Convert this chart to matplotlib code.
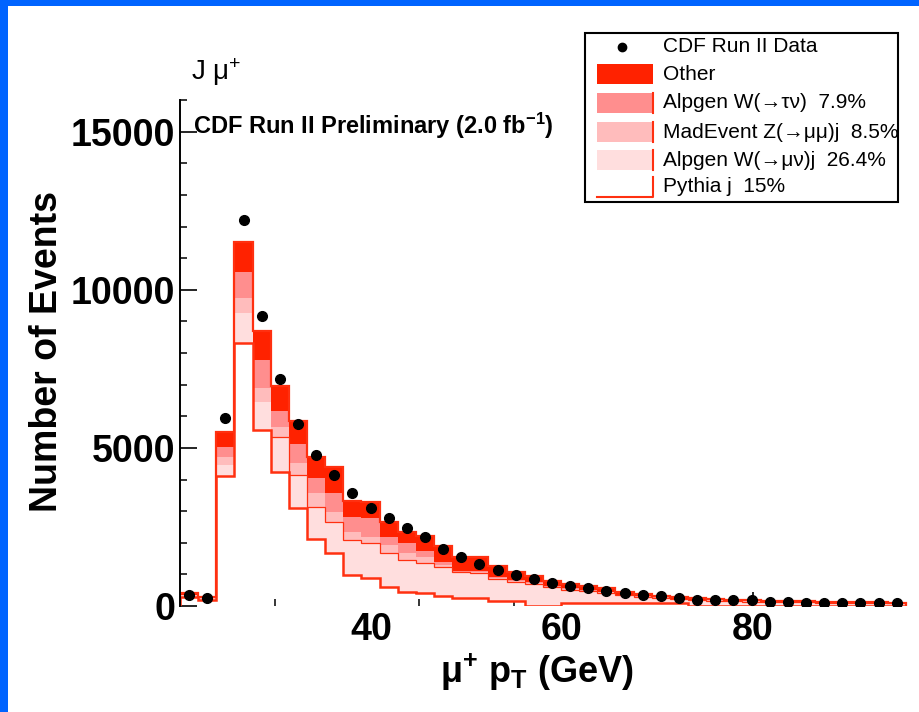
import numpy as np
import matplotlib
matplotlib.use("Agg")
import matplotlib.pyplot as plt
from matplotlib.patches import Rectangle
from matplotlib.ticker import FixedLocator, MultipleLocator

plt.rcParams['font.family'] = ['Liberation Sans', 'DejaVu Sans']
plt.rcParams['mathtext.fontset'] = 'custom'
plt.rcParams['mathtext.rm'] = 'Liberation Sans'
plt.rcParams['mathtext.it'] = 'Liberation Sans:italic'
plt.rcParams['mathtext.bf'] = 'Liberation Sans:bold'

# muon pT histogram: 40 bins of 1.9 GeV starting at 20 GeV
bin_edges = 20 + 1.9 * np.arange(41)
bin_centers = 0.5 * (bin_edges[:-1] + bin_edges[1:])

data = [350, 245, 5940, 12215, 9180, 7185, 5760, 4780, 4145, 3585,
        3090, 2795, 2460, 2170, 1805, 1560, 1330, 1140, 980, 845,
        720, 635, 560, 485, 420, 350, 315, 265, 190, 190,
        190, 190, 140, 115, 110, 110, 105, 105, 100, 100]

pythia_j = [300, 200, 4110, 8310, 5570, 4250, 3090, 2110, 1665, 980,
            875, 610, 455, 410, 305, 245, 245, 170, 170, 0,
            0, 95, 95, 95, 95, 95, 95, 95, 0, 0,
            0, 0, 0, 0, 0, 0, 0, 0, 0, 0]
alpgen_wmunu = [30, 30, 350, 950, 895, 1090, 1055, 1035, 1005, 1110,
                1110, 1055, 1000, 965, 915, 815, 800, 685, 595, 700,
                590, 425, 370, 325, 245, 195, 155, 115, 185, 170,
                155, 140, 130, 120, 115, 105, 95, 90, 85, 80]
madevent_zmumu = [10, 10, 245, 480, 425, 335, 370, 420, 315, 260,
                  210, 265, 220, 180, 80, 25, 30, 35, 30, 25,
                  20, 18, 15, 15, 10, 10, 10, 10, 10, 10,
                  10, 10, 10, 10, 8, 8, 8, 6, 6, 6]
alpgen_wtaunu = [20, 15, 335, 810, 895, 505, 610, 475, 580, 475,
                 580, 265, 310, 185, 80, 30, 30, 35, 30, 25,
                 20, 17, 15, 15, 10, 10, 10, 10, 10, 10,
                 10, 10, 10, 10, 7, 7, 7, 6, 6, 6]
other = [40, 25, 465, 960, 895, 790, 710, 665, 815, 495,
         525, 475, 370, 475, 520, 450, 455, 340, 250, 205,
         170, 140, 125, 105, 90, 70, 55, 45, 40, 35,
         30, 25, 20, 20, 20, 20, 20, 18, 18, 18]

legend_labels = ["CDF Run II Data", "Other", "Alpgen W(\u2192\u03c4\u03bd)  7.9%",
                 "MadEvent Z(\u2192\u03bc\u03bc)j  8.5%", "Alpgen W(\u2192\u03bc\u03bd)j  26.4%",
                 "Pythia j  15%"]

RED = '#ff2200'
LINE_RED = '#ff3010'
layer_colors = ['#ffdede', '#ffbcbc', '#ff8e8e', RED]
BLUE = '#0064ff'

W, H = 920, 712
fig = plt.figure(figsize=(W / 100, H / 100), dpi=100)
fig.patch.set_facecolor('white')

ax = fig.add_axes([180 / W, (H - 606) / H, 730 / W, 506 / H])
ax.set_xlim(20, 20 + 730 / 9.55)
ax.set_ylim(0, 16000)
ax.set_axisbelow(True)
ax.patch.set_alpha(0)

# stacked Monte Carlo components (bottom to top)
stack = [np.array(pythia_j, float), np.array(alpgen_wmunu, float),
         np.array(madevent_zmumu, float), np.array(alpgen_wtaunu, float),
         np.array(other, float)]
cum = np.cumsum(stack, axis=0)
for i, col in enumerate(layer_colors):
    ax.stairs(cum[i + 1], bin_edges, baseline=cum[i], fill=True,
              facecolor=col, edgecolor='none', lw=0, zorder=1)
# outline of the W(->mu nu) layer along the falling tail
ax.stairs(cum[1][5:], bin_edges[5:], baseline=None, color=LINE_RED, lw=0.9,
          zorder=2)
ax.stairs(cum[0], bin_edges, baseline=0, color=LINE_RED, lw=1.8, zorder=2)
ax.stairs(cum[-1], bin_edges, baseline=0, color=LINE_RED, lw=1.6, zorder=2)

ax.plot(bin_centers, data, 'o', color='black', ms=7, zorder=5)

for s in ['top', 'right', 'bottom']:
    ax.spines[s].set_visible(False)
ax.spines['left'].set_linewidth(1.4)

ax.yaxis.set_major_locator(FixedLocator([0, 5000, 10000, 15000]))
ax.yaxis.set_minor_locator(MultipleLocator(1000))
ax.xaxis.set_major_locator(FixedLocator([40, 60, 80]))
ax.xaxis.set_minor_locator(FixedLocator([30, 45, 55]))
ax.tick_params(axis='y', which='major', direction='in', length=12, width=1.2,
               labelsize=27, pad=3.5)
ax.tick_params(axis='y', which='minor', direction='in', length=5, width=1.1)
ax.tick_params(axis='x', which='major', direction='in', length=10, width=1.2,
               labelsize=27, pad=4.5)
ax.tick_params(axis='x', which='minor', direction='in', length=5, width=1.1)
for lab in ax.get_xticklabels() + ax.get_yticklabels():
    lab.set_fontweight('bold')
# only the 80 GeV major tick mark shows above the histogram fill
for tick in ax.xaxis.get_major_ticks()[:2]:
    tick.tick1line.set_visible(False)

# overlay in pixel coordinates for labels, legend and frame
ov = fig.add_axes([0, 0, 1, 1], zorder=10)
ov.set_xlim(0, W)
ov.set_ylim(H, 0)
ov.axis('off')

ov.text(47, 352, "Number of Events", rotation=90, fontsize=27, fontweight='bold',
        ha='center', va='center')
ov.text(537, 672, "\u03bc$^{\\mathbf{+}}$ p$_{\\mathbf{T}}$ (GeV)", fontsize=26,
        fontweight='bold', ha='center', va='center')
ov.text(193, 126, "CDF Run II Preliminary (2.0 fb$^{\\mathbf{-1}}$)", fontsize=17,
        fontweight='bold', ha='left', va='center')
ov.text(191, 72, "J \u03bc$^{+}$", fontsize=20, ha='left', va='center')

# legend box
ov.add_patch(Rectangle((585, 33), 313, 169, facecolor='white', edgecolor='black',
                       lw=1.5, zorder=11))
rows = [47, 74, 103, 132, 160, 187]
ov.plot([622], [rows[0]], 'o', color='black', ms=6, zorder=12)
sw_cols = [RED, '#ff8e8e', '#ffbcbc', '#ffdede']
for y, col in zip(rows[1:5], sw_cols):
    ov.add_patch(Rectangle((597, y - 10), 56, 20, facecolor=col, edgecolor='none',
                           zorder=12))
    if col != RED:
        ov.plot([653, 653], [y - 10, y + 10], color=LINE_RED, lw=1.5, zorder=13)
ov.plot([597, 653, 653], [rows[5] + 10, rows[5] + 10, rows[5] - 10],
        color=LINE_RED, lw=1.5, zorder=13)
for y, lab in zip(rows, legend_labels):
    ov.text(663, y, lab, fontsize=15, ha='left', va='center', zorder=13)

# blue frame strips
ov.add_patch(Rectangle((0, 0), 8, H, facecolor=BLUE, edgecolor='none', zorder=20))
ov.add_patch(Rectangle((0, 0), W, 6, facecolor=BLUE, edgecolor='none', zorder=20))

fig.savefig("out.png", dpi=100)
